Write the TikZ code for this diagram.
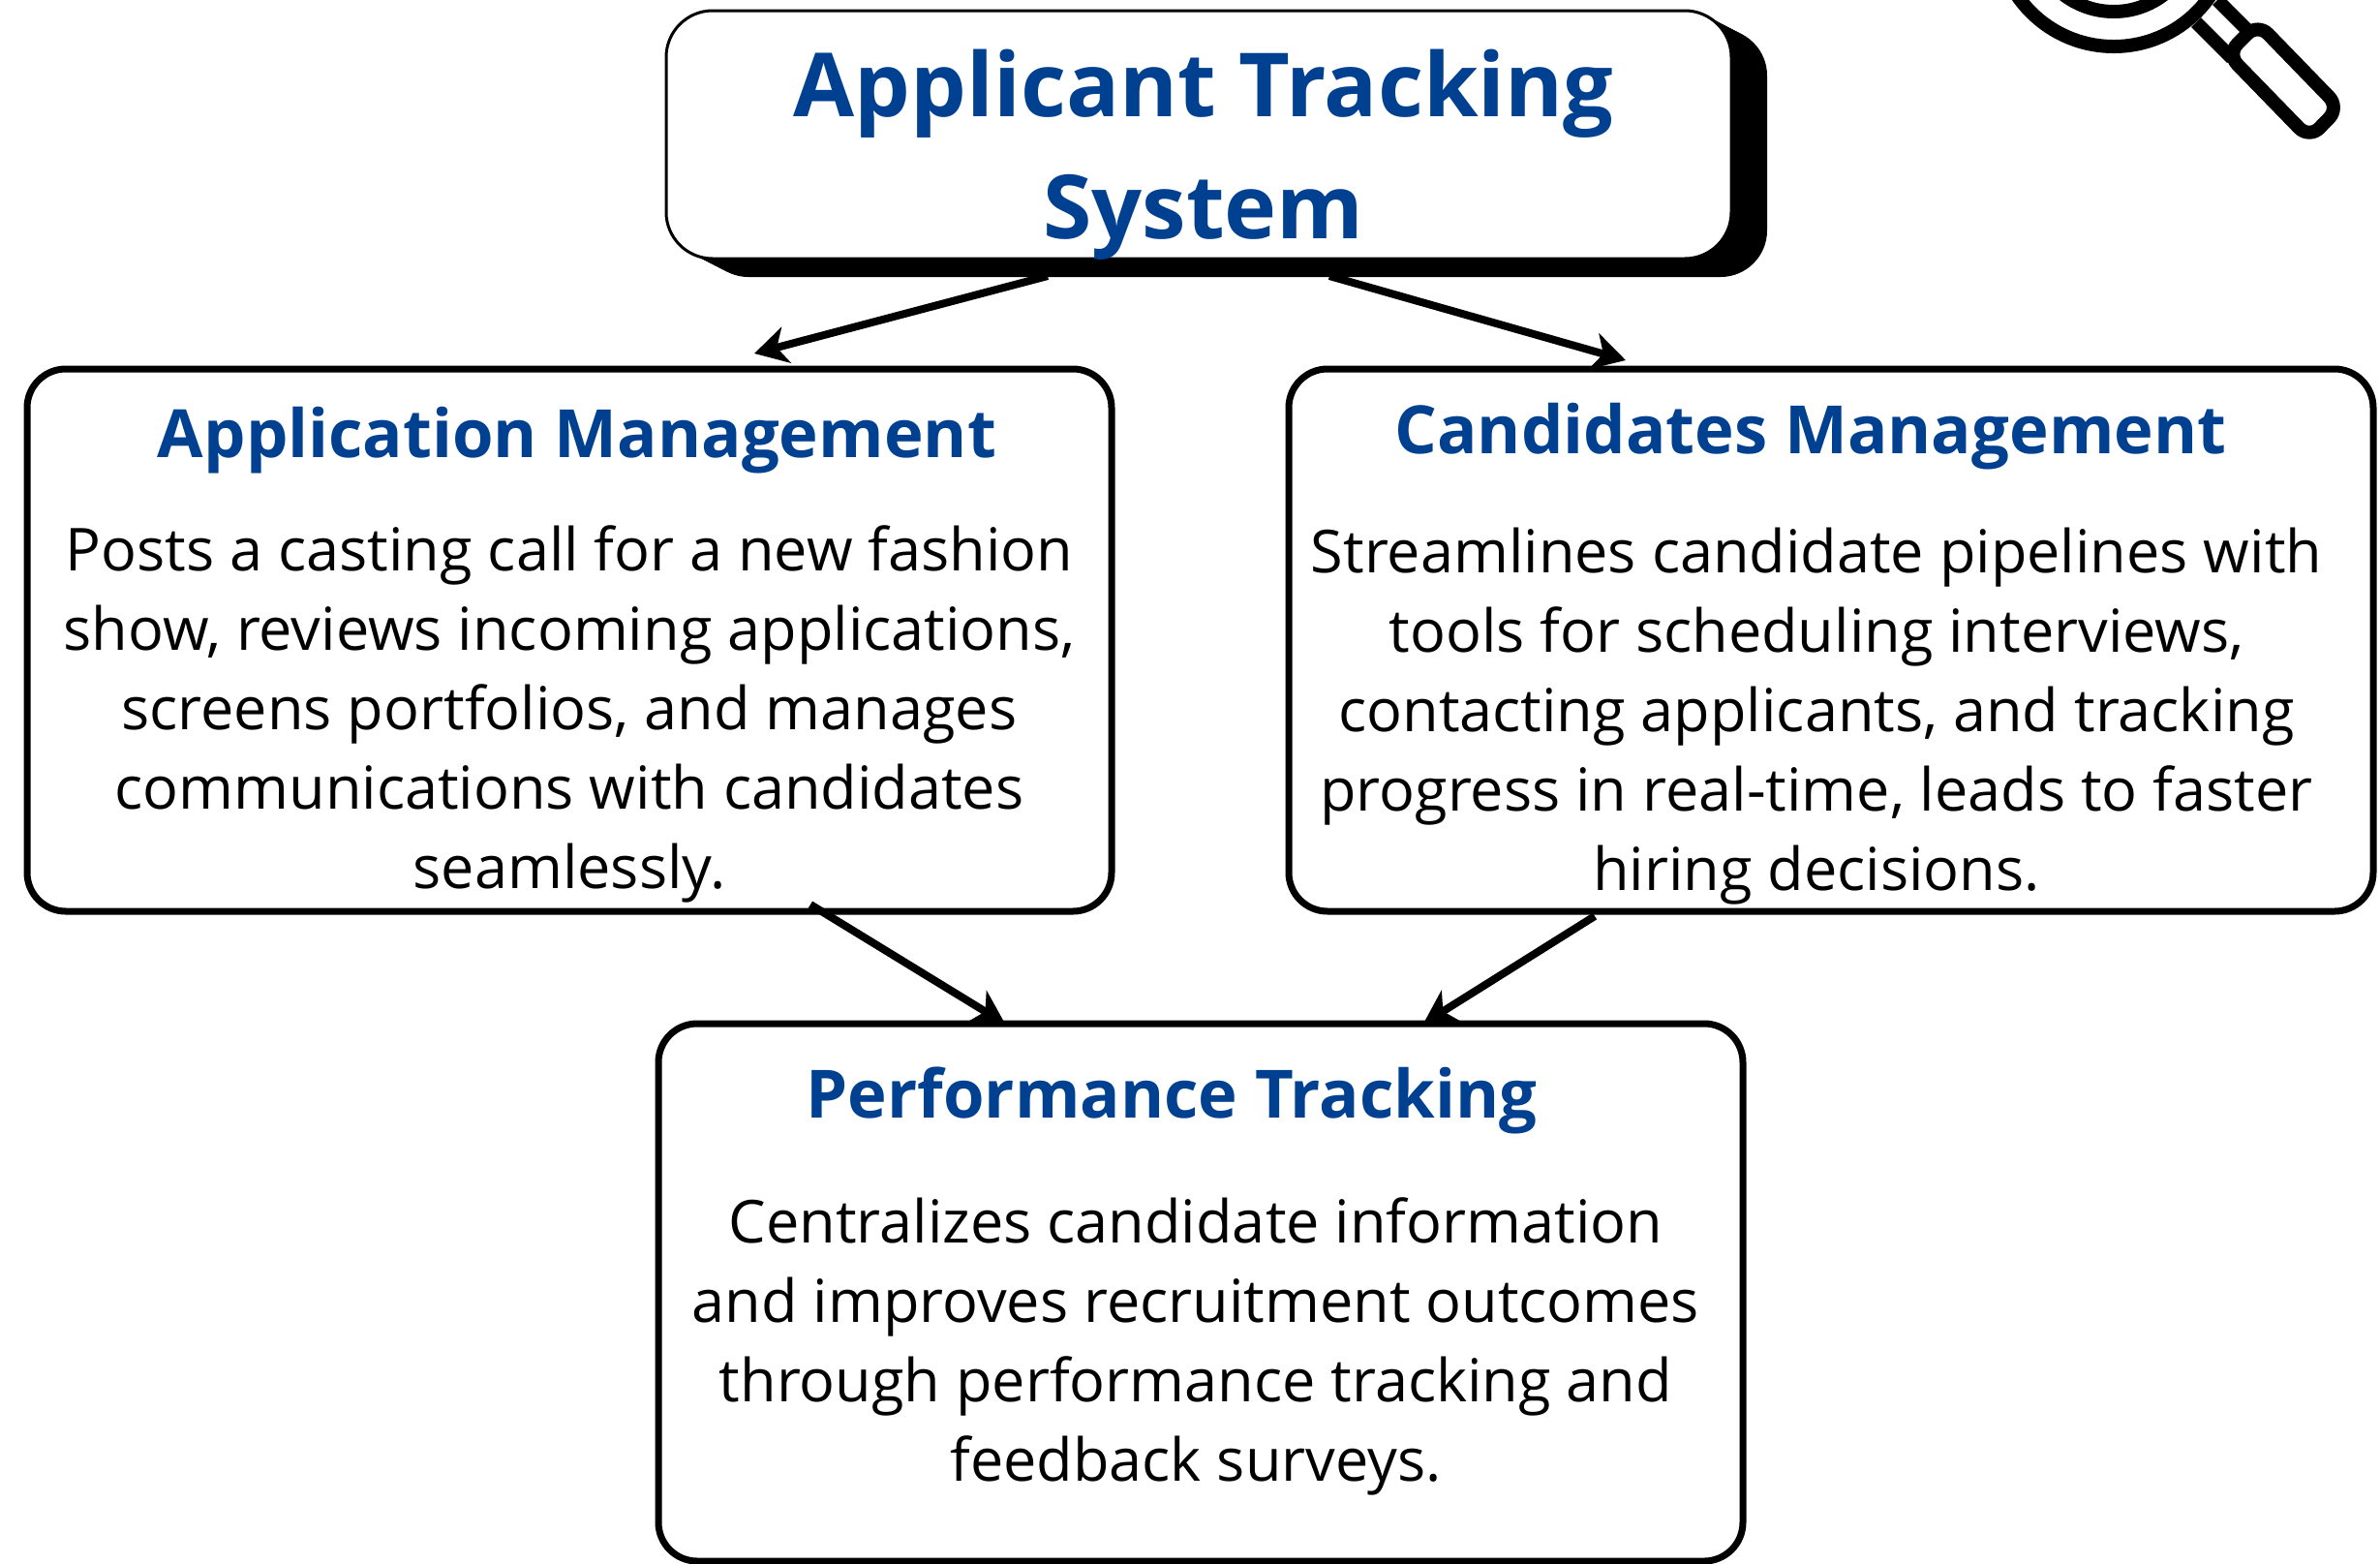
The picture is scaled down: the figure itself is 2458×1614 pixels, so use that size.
\documentclass[tikz,border=0pt]{standalone}
\usepackage{fontspec}
\setmainfont{Open Sans}
\usetikzlibrary{calc,arrows.meta}
\definecolor{headblue}{HTML}{004090}
\tikzset{
  box/.style={draw=black,fill=white,line width=3.5pt,rounded corners=20pt,inner sep=0pt,outer sep=0pt,minimum width=#1},
  box/.default=560pt,
  heading/.style={text=headblue,font=\fontsize{34.4}{40}\selectfont\bfseries,anchor=base,inner sep=0pt},
  bigheading/.style={heading,font=\fontsize{45.7}{63}\selectfont\bfseries},
  bodytext/.style={text=black,font=\fontsize{30.6}{41}\selectfont,align=center,anchor=base,inner sep=0pt},
  link/.style={line width=4pt,-{Stealth[length=17pt,width=19pt,inset=5pt]}},
  glass/.style={line width=7pt,draw=black,fill=none}
}
\begin{document}
\begin{tikzpicture}[x=0.5pt,y=-0.5pt]
\useasboundingbox (0,0) rectangle (2458,1614);
\clip (0,0) rectangle (2458,1614);
% shadow: the box outline swept along the diagonal
\foreach \i in {0,1,...,10}{
  \fill[black,rounded corners=24pt] ({688+3.7*\i},{11+1.9*\i}) rectangle ({1788+3.7*\i},{267+1.9*\i});
}
% title box
\node[box=550pt,minimum height=128pt,line width=1.5pt,rounded corners=24pt] (ats) at (1238,139) {};
\node[bigheading] (atst1) at (1243,120) {Applicant Tracking};
\node[bigheading] (atst2) at (1243,246) {System};
% boxes
\node[box=560pt,minimum height=280pt] (app) at (588,661) {};
\node[box=560pt,minimum height=280pt] (cand) at (1891,661) {};
\node[box=560pt,minimum height=277.5pt] (perf) at (1240,1334.5) {};
% texts
\node[heading] (appt) at (596,472) {Application Management};
\node[bodytext] (appb) at (588,917) {Posts a casting call for a new fashion\\show, reviews incoming applications,\\screens portfolios, and manages\\communications with candidates\\seamlessly.};
\node[heading] (candt) at (1870,468) {Candidates Management};
\node[bodytext] (candb) at (1876,919) {Streamlines candidate pipelines with\\tools for scheduling interviews,\\contacting applicants, and tracking\\progress in real-time, leads to faster\\hiring decisions.};
\node[heading] (perft) at (1210,1154) {Performance Tracking};
\node[bodytext] (perfb) at (1235,1529) {Centralizes candidate information\\and improves recruitment outcomes\\through performance tracking and\\feedback surveys.};
% connectors
\draw[link] ($(ats.south)+(-156,18)$) -- ($(app.north)+(191,-16)$);
\draw[link] ($(ats.south)+(135,18)$) -- ($(cand.north)+(-212,-9)$);
\draw[link] ($(app.south)+(249,-7)$) -- ($(perf.north)+(-202,0)$);
\draw[link] ($(cand.south)+(-244,5)$) -- ($(perf.north)+(230,0)$);
% magnifier
\draw[glass] (2183,-73) circle[radius=121];
\draw[glass] (2183,-73) circle[radius=85];
\draw[glass] (2268,23) -- (2305,60);
\draw[glass] (2290,0) -- (2326,36);
\draw[glass,fill=white,rounded corners=7.5pt] (2331.8,24.2) -- (2416,111) -- (2385,143) -- (2300.2,55.8) -- cycle;
\end{tikzpicture}
\end{document}
